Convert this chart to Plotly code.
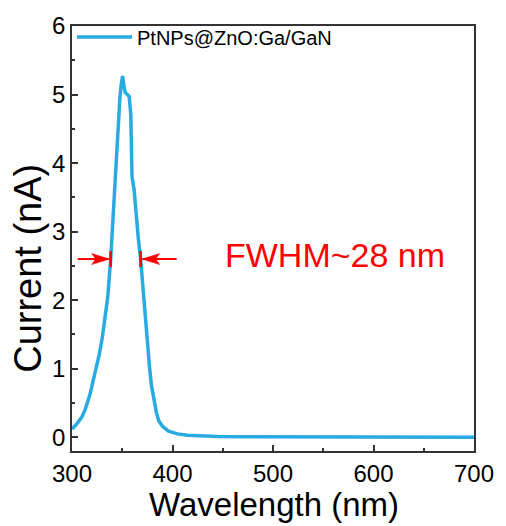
import plotly.graph_objects as go

# ---- data ----
wavelength = [300, 302, 305, 308, 310, 313, 315, 318, 320, 322, 324, 327, 330, 333,
              335.6, 338.5, 340.5, 343, 345.4, 347.7, 349, 350.3, 351.5, 352.9, 355,
              356.9, 358.5, 359.5, 359.7, 361.8, 364, 366, 368.3, 371, 373, 375, 377,
              379, 381.4, 384, 386.3, 390, 396, 405, 415, 430, 445, 470, 500, 550,
              600, 650, 700]
current = [0.12, 0.15, 0.20, 0.26, 0.30, 0.40, 0.48, 0.63, 0.76, 0.88, 1.0, 1.2, 1.44,
           1.76, 2.05, 2.60, 3.13, 3.85, 4.47, 4.96, 5.15, 5.27, 5.15, 5.03, 5.0,
           4.97, 4.71, 4.23, 3.80, 3.61, 3.17, 2.90, 2.60, 2.07, 1.78, 1.40, 1.05,
           0.76, 0.53, 0.36, 0.24, 0.16, 0.09, 0.05, 0.03, 0.015, 0.01, 0.007, 0.005,
           0.003, 0.002, 0.001, 0.0]
series_name = "PtNPs@ZnO:Ga/GaN"

x_ticks = [300, 400, 500, 600, 700]
y_ticks = [0, 1, 2, 3, 4, 5, 6]

fwhm_left = 338.5
fwhm_right = 368.3
fwhm_level = 2.6
fwhm_label = "FWHM~28 nm"

FONT = "Liberation Sans, Arial, sans-serif"
BLUE = "rgb(40,170,226)"
RED = "rgb(255,0,0)"

fig = go.Figure()
fig.add_trace(go.Scatter(
    x=wavelength, y=current, mode="lines", name=series_name,
    line=dict(color=BLUE, width=3.5),
))

axis_common = dict(
    showline=True, linecolor="#333333", linewidth=1.5, mirror=True,
    ticks="inside", ticklen=6, tickwidth=1.5, tickcolor="#333333",
    showgrid=False, zeroline=False,
    tickfont=dict(family=FONT, size=24, color="black"),
)
fig.update_xaxes(range=[300, 700], tickvals=x_ticks,
                 minor=dict(dtick=50, ticks="inside", ticklen=3, tickcolor="#333333", tickwidth=1.5),
                 **axis_common)
fig.update_yaxes(range=[-0.2, 6], tickvals=y_ticks,
                 minor=dict(dtick=0.5, ticks="inside", ticklen=3, tickcolor="#333333", tickwidth=1.5),
                 **axis_common)

shapes = []
annotations = []
# FWHM markers: bars + arrows (sizes in pixels, anchored on FWHM data points)
for xa, direction, tail in [(fwhm_left, -1, 33), (fwhm_right, 1, 36)]:
    shapes.append(dict(type="line", xref="x", yref="y", x0=xa, x1=xa,
                       ysizemode="pixel", yanchor=fwhm_level, y0=-8, y1=8,
                       line=dict(color=RED, width=2.5)))
    shapes.append(dict(type="line", xref="x", yref="y", xsizemode="pixel",
                       ysizemode="pixel", xanchor=xa, yanchor=fwhm_level,
                       x0=direction * 2, x1=direction * tail, y0=0, y1=0,
                       line=dict(color=RED, width=2)))
    d = direction
    path = (f"M{d*1},0 L{d*19},5.5 L{d*15},0 L{d*19},-5.5 Z")
    shapes.append(dict(type="path", xref="x", yref="y", xsizemode="pixel",
                       ysizemode="pixel", xanchor=xa, yanchor=fwhm_level,
                       path=path, fillcolor=RED, line=dict(color=RED, width=0.5)))

annotations.append(dict(text=fwhm_label, xref="paper", yref="paper",
                        x=(339 - 72) / 408, y=(451 - 253) / 430,
                        xanchor="center", yanchor="middle", showarrow=False,
                        font=dict(family=FONT, size=34, color=RED)))
annotations.append(dict(text="Wavelength (nm)", xref="paper", yref="paper",
                        x=(277 - 72) / 408, y=(451 - 505) / 430,
                        xanchor="center", yanchor="middle", showarrow=False,
                        font=dict(family=FONT, size=33, color="black")))
annotations.append(dict(text="Current (nA)", xref="paper", yref="paper",
                        x=(28 - 72) / 408, y=(451 - 266) / 430, textangle=-90,
                        xanchor="center", yanchor="middle", showarrow=False,
                        font=dict(family=FONT, size=38, color="black")))

fig.update_layout(
    width=506, height=526,
    margin=dict(l=72, r=26, t=21, b=75),
    paper_bgcolor="white", plot_bgcolor="white",
    showlegend=True,
    legend=dict(x=0.0, y=1.02, xanchor="left", yanchor="top",
                font=dict(family=FONT, size=20, color="black"),
                bgcolor="rgba(0,0,0,0)", itemwidth=55,
                tracegroupgap=0),
    shapes=shapes, annotations=annotations,
    font=dict(family=FONT),
)

fig.write_html("out.html")
